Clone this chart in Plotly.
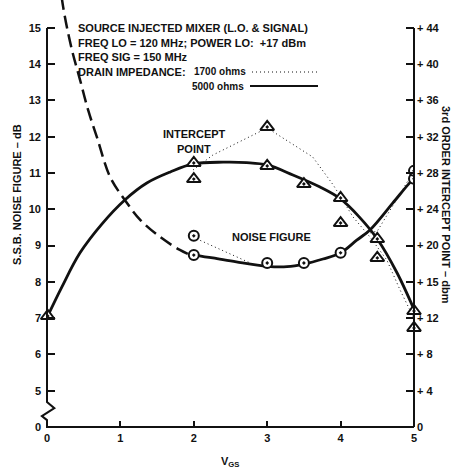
import plotly.graph_objects as go

# ---------------- data ----------------
# Noise figure (left axis, dB)
nf_low_x = [0.2, 0.22, 0.27, 0.35, 0.45, 0.56, 0.68, 0.86, 1.06, 1.27, 1.54, 1.81, 1.99]
nf_low_v = [15.85, 15.58, 15.03, 14.31, 13.57, 12.74, 11.99, 10.89, 10.26, 9.71, 9.24, 8.88, 8.71]

nf5000_curve_x = [2.0, 2.26, 2.58, 3.0, 3.27, 3.5, 3.76, 4.0, 4.22, 4.4, 4.71, 4.95, 5.0]
nf5000_curve_v = [8.74, 8.66, 8.55, 8.43, 8.42, 8.49, 8.63, 8.80, 9.15, 9.43, 10.17, 10.75, 10.84]
nf5000_pts_x = [2, 3, 3.5, 4, 5]
nf5000_pts_v = [8.74, 8.52, 8.52, 8.80, 10.84]

nf1700_line_x = [2.0, 2.08, 2.77, None, 4.3, 4.5, 5.0]
nf1700_line_v = [9.27, 9.15, 8.52, None, 9.3, 9.4, 11.06]
nf1700_pts_x = [2, 5]
nf1700_pts_v = [9.27, 11.06]

# Intercept point (right axis, dBm)
ip5000_curve_x = [0.01, 0.2, 0.45, 0.75, 1.06, 1.36, 1.68, 1.99, 2.4, 2.72, 3.0,
                  3.35, 3.72, 3.99, 4.25, 4.50, 4.77, 5.01]
ip5000_curve_r = [12.24, 15.4, 19.2, 22.4, 25.03, 26.90, 28.12, 29.00, 29.2, 29.15,
                  28.89, 27.79, 26.46, 25.2, 23.2, 20.73, 16.98, 12.79]
ip5000_pts_x = [0.01, 2, 3, 3.5, 4, 4.5, 5]
ip5000_pts_r = [12.24, 29.11, 28.78, 26.79, 25.25, 20.73, 12.79]

ip1700_line_x = [1.99, 2.26, 3.0, 3.62, 3.9, 4.17, 4.4, 4.63, 4.81, 4.99]
ip1700_line_r = [28.34, 29.99, 32.97, 29.77, 26.68, 23.15, 20.95, 18.41, 15.11, 12.13]
ip1700_pts_x = [2, 3, 4, 4.5, 5]
ip1700_pts_r = [27.34, 33.08, 22.49, 18.64, 10.92]

# Tick labels
x_ticks = [0, 1, 2, 3, 4, 5]
left_tickvals = [4, 5, 6, 7, 8, 9, 10, 11, 12, 13, 14, 15]
left_ticktext = ["0", "5", "6", "7", "8", "9", "10", "11", "12", "13", "14", "15"]
right_tickvals = [0, 4, 8, 12, 16, 20, 24, 28, 32, 36, 40, 44]
right_ticktext = ["0", "+ 4", "+ 8", "+ 12", "+ 15", "+ 20", "+ 24", "+ 28", "+ 32", "+ 36", "+ 40", "+ 44"]

# ---------------- figure ----------------
W, H = 455, 475
ML, MR, MT, MB = 47, 41, 0, 48
PW, PH = W - ML - MR, H - MT - MB
LEFT_RANGE = [4, 15.77]
RIGHT_RANGE = [0, 47.08]

FONT = "Liberation Sans"
BLACK = "#111111"
FS = 11

fig = go.Figure()

mk_tri = dict(symbol="triangle-up-dot", size=12, color="white", line=dict(color=BLACK, width=2))
mk_cir = dict(symbol="circle-dot", size=10, color="white", line=dict(color=BLACK, width=2))

# noise figure traces
fig.add_trace(go.Scatter(x=nf_low_x, y=nf_low_v, mode="lines",
                         line=dict(color=BLACK, width=2.5, dash="13px,6px", shape="spline", smoothing=1),
                         yaxis="y"))
fig.add_trace(go.Scatter(x=nf1700_line_x, y=nf1700_line_v, mode="lines",
                         line=dict(color=BLACK, width=1, dash="1px,3px"), yaxis="y"))
fig.add_trace(go.Scatter(x=nf5000_curve_x, y=nf5000_curve_v, mode="lines",
                         line=dict(color=BLACK, width=2.8, shape="spline", smoothing=1), yaxis="y"))
# intercept traces
fig.add_trace(go.Scatter(x=ip1700_line_x, y=ip1700_line_r, mode="lines",
                         line=dict(color=BLACK, width=1, dash="1px,3px"), yaxis="y2"))
fig.add_trace(go.Scatter(x=ip5000_curve_x, y=ip5000_curve_r, mode="lines",
                         line=dict(color=BLACK, width=2.8, shape="spline", smoothing=1), yaxis="y2"))
# markers
fig.add_trace(go.Scatter(x=nf5000_pts_x, y=nf5000_pts_v, mode="markers", marker=mk_cir, yaxis="y"))
fig.add_trace(go.Scatter(x=nf1700_pts_x, y=nf1700_pts_v, mode="markers", marker=mk_cir, yaxis="y"))
fig.add_trace(go.Scatter(x=ip5000_pts_x, y=ip5000_pts_r, mode="markers", marker=mk_tri, yaxis="y2",
                         cliponaxis=False))
fig.add_trace(go.Scatter(x=ip1700_pts_x, y=ip1700_pts_r, mode="markers", marker=mk_tri, yaxis="y2",
                         cliponaxis=False))

tickfont = dict(family=FONT, size=FS, color=BLACK, weight="bold")

fig.update_layout(
    width=W, height=H,
    margin=dict(l=ML, r=MR, t=MT, b=MB, pad=0),
    paper_bgcolor="white", plot_bgcolor="white",
    showlegend=False,
    xaxis=dict(range=[0, 5], tickvals=x_ticks, ticks="inside", ticklen=6, tickwidth=1.5,
               tickcolor=BLACK, showgrid=False, zeroline=False, showline=False,
               tickfont=tickfont, ticklabelstandoff=3),
    yaxis=dict(range=LEFT_RANGE, tickvals=left_tickvals, ticktext=left_ticktext,
               ticks="inside", ticklen=8, tickwidth=1.5, tickcolor=BLACK,
               showgrid=False, zeroline=False, showline=False, tickfont=tickfont,
               ticklabelstandoff=5),
    yaxis2=dict(range=RIGHT_RANGE, overlaying="y", side="right", anchor="x",
                tickvals=right_tickvals, ticktext=right_ticktext,
                ticks="inside", ticklen=8, tickwidth=1.5, tickcolor=BLACK,
                showgrid=False, zeroline=False, showline=False, tickfont=tickfont,
                ticklabelstandoff=2),
)


def px2paper(px, py):
    return (px - ML) / PW, (H - MB - py) / PH


def xp(x):
    return x / 5.0


def yp(v):
    return (v - LEFT_RANGE[0]) / (LEFT_RANGE[1] - LEFT_RANGE[0])


def yp2(r):
    return (r - RIGHT_RANGE[0]) / (RIGHT_RANGE[1] - RIGHT_RANGE[0])


shapes = []
LW = 2
# left axis with break, and bottom axis
pts = [(0, 15), (0, 4.69), (0.1, 4.52), (-0.07, 4.30), (0, 4.19), (0, 4), (5, 4)]
path = "M " + " L ".join(f"{xp(a):.5f},{yp(b):.5f}" for a, b in pts)
shapes.append(dict(type="path", xref="paper", yref="paper", path=path,
                   line=dict(color=BLACK, width=LW), layer="above"))
# right axis
shapes.append(dict(type="line", xref="paper", yref="paper", x0=1, x1=1, y0=yp2(0), y1=yp2(44),
                   line=dict(color=BLACK, width=LW), layer="above"))

# legend keys
x0, y0 = px2paper(252, 72)
x1, _ = px2paper(318, 72)
shapes.append(dict(type="line", xref="paper", yref="paper", x0=x0, x1=x1, y0=y0, y1=y0,
                   line=dict(color=BLACK, width=1, dash="1px,3px")))
x0, y0 = px2paper(250, 86)
x1, _ = px2paper(318, 86)
shapes.append(dict(type="line", xref="paper", yref="paper", x0=x0, x1=x1, y0=y0, y1=y0,
                   line=dict(color=BLACK, width=1.8)))
fig.update_layout(shapes=shapes)


def ann(text, px, py, xanchor="left", angle=0, size=FS):
    x, y = px2paper(px, py)
    fig.add_annotation(text=text, x=x, y=y, xref="paper", yref="paper", showarrow=False,
                       xanchor=xanchor, yanchor="middle", textangle=angle,
                       font=dict(family=FONT, size=size, color=BLACK, weight="bold"))


ann("SOURCE INJECTED MIXER (L.O. &amp; SIGNAL)", 76, 28)
ann("FREQ LO = 120 MHz; POWER LO:  +17 dBm", 76, 43)
ann("FREQ SIG = 150 MHz", 76, 57)
ann("DRAIN IMPEDANCE:", 76, 72)
ann("1700 ohms", 248, 72, xanchor="right", size=10)
ann("5000 ohms", 246, 86, xanchor="right", size=10)
ann("INTERCEPT", 194, 134, xanchor="center")
ann("POINT", 194, 149, xanchor="center")
ann("NOISE FIGURE", 271, 237, xanchor="center")
ann("S.S.B. NOISE FIGURE – dB", 17, 195, xanchor="center", angle=-90)
ann("3rd ORDER INTERCEPT POINT – dbm", 446, 205, xanchor="center", angle=90)
ann("V<sub>GS</sub>", 230, 462, xanchor="center")

fig.write_html("out.html")
